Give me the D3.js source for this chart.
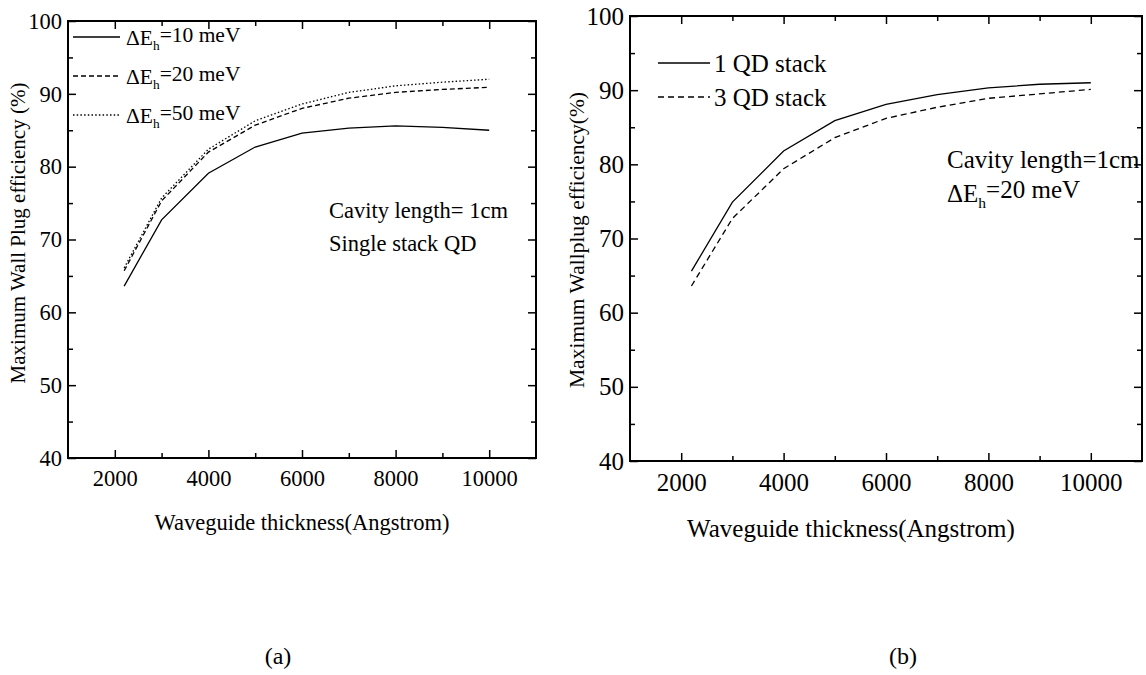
<!DOCTYPE html>
<html>
<head>
<meta charset="utf-8">
<script src="https://cdn.jsdelivr.net/npm/d3@7"></script>
<style>
  html, body { margin: 0; padding: 0; background: #fff; }
</style>
</head>
<body>
<svg id="chart" width="1146" height="675"></svg>
<script>
// ---- data ----
const thickness = [2200, 3000, 4000, 5000, 6000, 7000, 8000, 9000, 10000];
const dE10 = [63.6, 72.7, 79.1, 82.7, 84.6, 85.3, 85.6, 85.4, 85.0];
const dE20 = [65.7, 75.3, 82.0, 85.7, 88.0, 89.4, 90.2, 90.6, 90.9];
const dE50 = [66.1, 75.7, 82.4, 86.3, 88.6, 90.2, 91.1, 91.6, 92.0];
const qd1 = [65.6, 74.9, 81.8, 85.9, 88.1, 89.4, 90.3, 90.8, 91.0];
const qd3 = [63.6, 72.7, 79.4, 83.6, 86.2, 87.7, 88.9, 89.5, 90.1];
const xMajor = [2000, 4000, 6000, 8000, 10000];
const xMinor = [3000, 5000, 7000, 9000];
const yMajor = [40, 50, 60, 70, 80, 90, 100];
const yMinor = [45, 55, 65, 75, 85, 95];
const xDomain = [1000, 11000];
const yDomain = [40, 100];
const xTitle = "Waveguide thickness(Angstrom)";

const FONT = "Liberation Serif";
const svg = d3.select("#chart");

function panel(cfg) {
  const g = svg.append("g");
  const x = d3.scaleLinear().domain(xDomain).range([cfg.x0, cfg.x1]);
  const y = d3.scaleLinear().domain(yDomain).range([cfg.y1, cfg.y0]);
  const fs = cfg.fs;

  function styleAxis(sel) {
    sel.attr("font-family", null);
    sel.select(".domain").remove();
    sel.selectAll("line").attr("stroke", "#000").attr("stroke-width", 1.5);
    sel.selectAll("text").style("font-family", FONT).attr("fill", "#000").style("font-size", fs + "px");
  }
  g.append("g").attr("transform", `translate(0,${cfg.y1})`)
    .call(d3.axisBottom(x).tickValues(xMajor).tickSize(-8).tickPadding(12).tickFormat(d3.format("d")))
    .call(styleAxis);
  g.append("g").attr("transform", `translate(0,${cfg.y1})`)
    .call(d3.axisBottom(x).tickValues(xMinor).tickSize(-5).tickFormat(""))
    .call(styleAxis);
  g.append("g").attr("transform", `translate(0,${cfg.y0})`)
    .call(d3.axisTop(x).tickValues(xMajor).tickSize(-8).tickFormat(""))
    .call(styleAxis);
  g.append("g").attr("transform", `translate(0,${cfg.y0})`)
    .call(d3.axisTop(x).tickValues(xMinor).tickSize(-5).tickFormat(""))
    .call(styleAxis);
  g.append("g").attr("transform", `translate(${cfg.x0},0)`)
    .call(d3.axisLeft(y).tickValues(yMajor).tickSize(-8).tickPadding(6).tickFormat(d3.format("d")))
    .call(styleAxis);
  g.append("g").attr("transform", `translate(${cfg.x0},0)`)
    .call(d3.axisLeft(y).tickValues(yMinor).tickSize(-5).tickFormat(""))
    .call(styleAxis);
  g.append("g").attr("transform", `translate(${cfg.x1},0)`)
    .call(d3.axisRight(y).tickValues(yMajor).tickSize(-8).tickFormat(""))
    .call(styleAxis);
  g.append("g").attr("transform", `translate(${cfg.x1},0)`)
    .call(d3.axisRight(y).tickValues(yMinor).tickSize(-5).tickFormat(""))
    .call(styleAxis);

  g.append("rect").attr("x", cfg.x0).attr("y", cfg.y0)
    .attr("width", cfg.x1 - cfg.x0).attr("height", cfg.y1 - cfg.y0)
    .attr("fill", "none").attr("stroke", "#000").attr("stroke-width", 2);

  const line = d3.line().x(d => x(d[0])).y(d => y(d[1]));
  cfg.series.forEach(s => {
    g.append("path").datum(thickness.map((t, i) => [t, s.values[i]]))
      .attr("d", line).attr("fill", "none").attr("stroke", "#000")
      .attr("stroke-width", 1.3).attr("stroke-dasharray", s.dash);
  });

  cfg.series.forEach((s, i) => {
    const ly = cfg.legY[i];
    g.append("line").attr("x1", cfg.legX0).attr("x2", cfg.legX1)
      .attr("y1", ly).attr("y2", ly).attr("stroke", "#000")
      .attr("stroke-width", 1.3).attr("stroke-dasharray", s.dash);
    const t = g.append("text").attr("x", cfg.legX1 + cfg.legGap).attr("y", ly + cfg.legBase)
      .style("font-family", FONT).style("font-size", cfg.legFs + "px");
    s.label(t);
  });

  cfg.notes.forEach(n => {
    const t = g.append("text").attr("x", cfg.noteX).attr("y", n.y)
      .style("font-family", FONT).style("font-size", cfg.noteFs + "px");
    n.text(t);
  });

  g.append("text").attr("x", (cfg.x0 + cfg.x1) / 2 + cfg.xtDx).attr("y", cfg.xtY)
    .style("font-family", FONT)
    .attr("text-anchor", "middle").style("font-size", cfg.xtFs + "px").text(xTitle);
  g.append("text").attr("transform", `translate(${cfg.ytX},${cfg.ytY}) rotate(-90)`)
    .style("font-family", FONT)
    .attr("text-anchor", "middle").style("font-size", cfg.ytFs + "px").text(cfg.yTitle);

  g.append("text").attr("x", cfg.capX).attr("y", 664).attr("text-anchor", "middle")
    .style("font-family", FONT).style("font-size", "24px").text(cfg.caption);
}

function deltaE(val) {
  return t => {
    t.append("tspan").text("ΔE");
    t.append("tspan").attr("dy", "0.38em").style("font-size", "0.62em").text("h");
    t.append("tspan").attr("dy", "-0.38em").text("=" + val + " meV");
  };
}

panel({
  x0: 68, x1: 536, y0: 21, y1: 458, fs: 22.5,
  series: [
    { values: dE10, dash: null, label: deltaE(10) },
    { values: dE20, dash: "5,3", label: deltaE(20) },
    { values: dE50, dash: "1.5,2.2", label: deltaE(50) }
  ],
  legX0: 73, legX1: 120, legGap: 6, legY: [37, 76, 115], legBase: 8, legFs: 21.5,
  noteX: 329, noteFs: 22.5,
  notes: [
    { y: 218, text: t => t.text("Cavity length= 1cm") },
    { y: 251, text: t => t.text("Single stack QD") }
  ],
  xtDx: 0, xtY: 530, xtFs: 22.5,
  ytX: 25, ytY: 233, ytFs: 21, yTitle: "Maximum Wall Plug efficiency (%)",
  capX: 278, caption: "(a)"
});

panel({
  x0: 630, x1: 1142, y0: 16, y1: 461, fs: 25,
  series: [
    { values: qd1, dash: null, label: t => t.text("1 QD stack") },
    { values: qd3, dash: "6,4", label: t => t.text("3 QD stack") }
  ],
  legX0: 658, legX1: 710, legGap: 4, legY: [63, 97], legBase: 9, legFs: 25,
  noteX: 947, noteFs: 25,
  notes: [
    { y: 168, text: t => t.text("Cavity length=1cm") },
    { y: 202, text: deltaE(20) }
  ],
  xtDx: -35, xtY: 537, xtFs: 25,
  ytX: 584, ytY: 240, ytFs: 21.5, yTitle: "Maximum Wallplug efficiency(%)",
  capX: 903, caption: "(b)"
});
</script>
</body>
</html>
